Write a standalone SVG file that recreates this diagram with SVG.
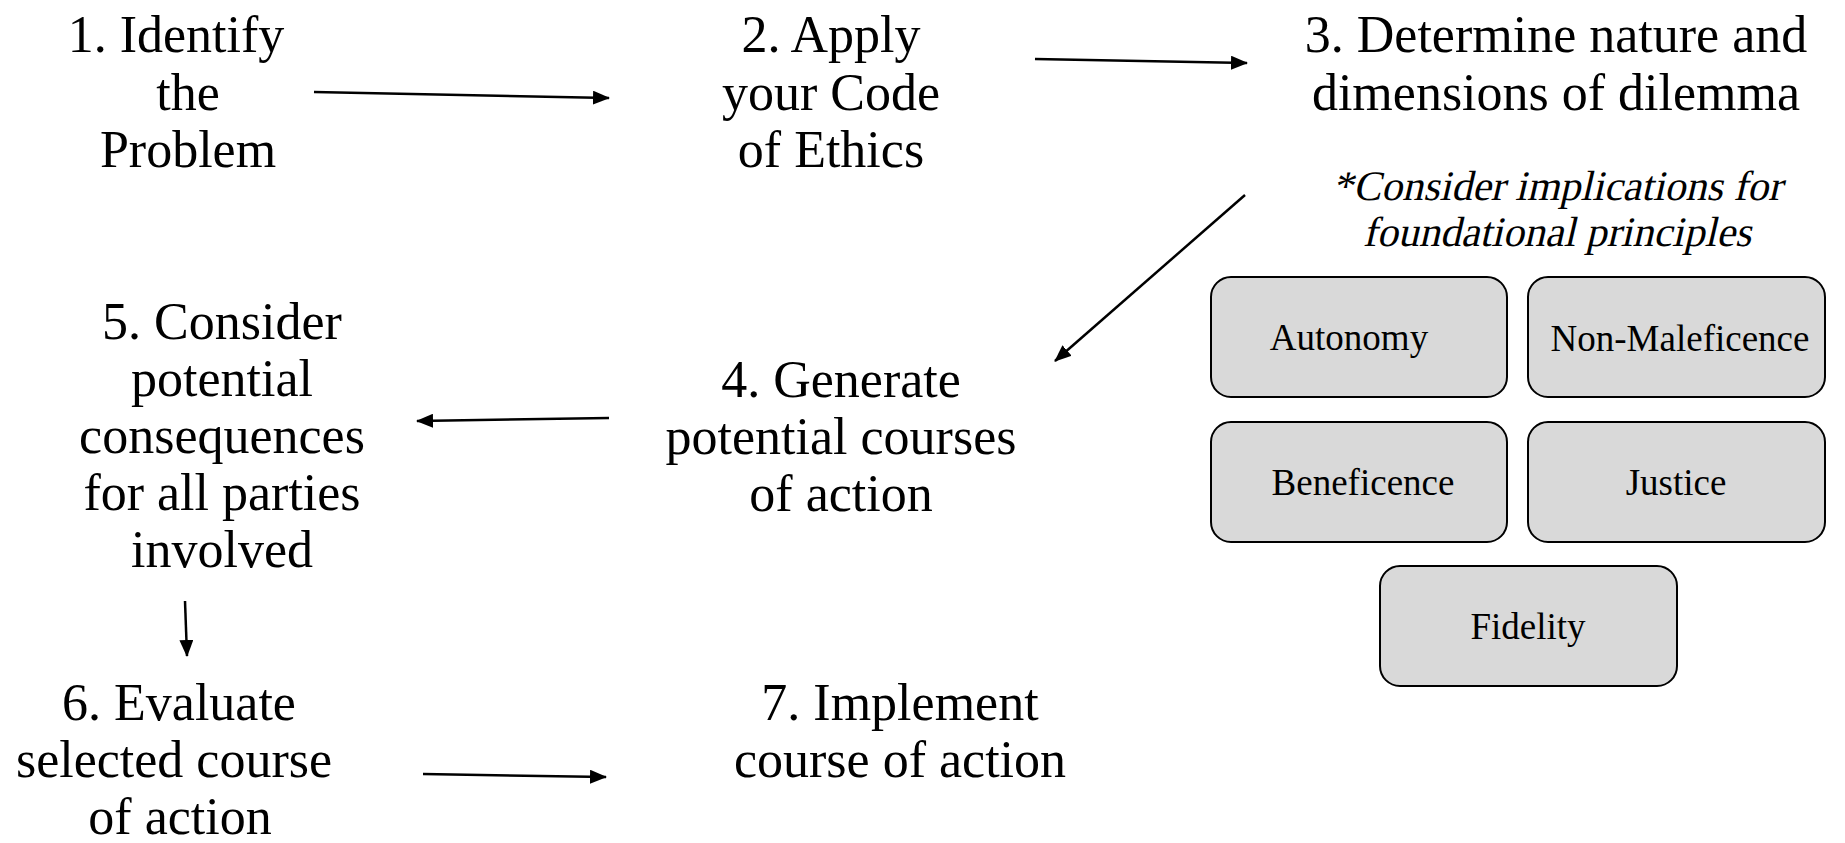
<svg xmlns="http://www.w3.org/2000/svg" width="1845" height="843" viewBox="0 0 1845 843">
<style>
.t{font-family:"Liberation Serif","Times New Roman",serif;font-size:52px;fill:#000;text-anchor:middle}
.n{font-family:"Liberation Serif","Times New Roman",serif;font-size:42px;fill:#000;text-anchor:middle}
.b{font-family:"Liberation Serif","Times New Roman",serif;font-size:37px;fill:#000;text-anchor:middle}
.box{fill:#d9d9d9;stroke:#000;stroke-width:2}
.c{stroke:#000;stroke-width:2.5;fill:none;marker-end:url(#ah)}
</style>
<defs>
<marker id="ah" markerUnits="userSpaceOnUse" markerWidth="17" markerHeight="14" refX="16" refY="7" orient="auto">
<path d="M0,0 L17,7 L0,14 z" fill="#000"/>
</marker>
</defs>
<rect width="1845" height="843" fill="#fff"/>
<g id="connectors">
<line class="c" x1="314" y1="92" x2="609" y2="98"/>
<line class="c" x1="1035" y1="59" x2="1247" y2="63"/>
<line class="c" x1="1245" y1="195" x2="1055" y2="361"/>
<line class="c" x1="609" y1="418" x2="417" y2="421"/>
<line class="c" x1="185" y1="601" x2="187" y2="656"/>
<line class="c" x1="423" y1="774" x2="606" y2="777"/>
</g>
<g id="n1">
<text class="t" x="176" y="52">1. Identify</text>
<text class="t" x="188" y="110">the</text>
<text class="t" x="188" y="167">Problem</text>
</g>
<g id="n2">
<text class="t" x="831" y="52">2. Apply</text>
<text class="t" x="831" y="110">your Code</text>
<text class="t" x="831" y="167">of Ethics</text>
</g>
<g id="n3">
<text class="t" x="1556" y="52">3. Determine nature and</text>
<text class="t" x="1556" y="110">dimensions of dilemma</text>
</g>
<g id="note">
<text class="n" transform="translate(1557,200) skewX(-13)" x="0" y="0">*Consider implications for</text>
<text class="n" transform="translate(1557,246) skewX(-13)" x="0" y="0">foundational principles</text>
</g>
<g id="autonomy">
<rect class="box" x="1211" y="277" width="296" height="120" rx="20"/>
<text class="b" x="1349" y="350">Autonomy</text>
</g>
<g id="nonmaleficence">
<rect class="box" x="1528" y="277" width="297" height="120" rx="20"/>
<text class="b" x="1680" y="351">Non-Maleficence</text>
</g>
<g id="beneficence">
<rect class="box" x="1211" y="422" width="296" height="120" rx="20"/>
<text class="b" x="1363" y="495">Beneficence</text>
</g>
<g id="justice">
<rect class="box" x="1528" y="422" width="297" height="120" rx="20"/>
<text class="b" x="1676" y="495">Justice</text>
</g>
<g id="fidelity">
<rect class="box" x="1380" y="566" width="297" height="120" rx="20"/>
<text class="b" x="1528" y="639">Fidelity</text>
</g>
<g id="n4">
<text class="t" x="841" y="397">4. Generate</text>
<text class="t" x="841" y="454">potential courses</text>
<text class="t" x="841" y="511">of action</text>
</g>
<g id="n5">
<text class="t" x="222" y="339">5. Consider</text>
<text class="t" x="222" y="396">potential</text>
<text class="t" x="222" y="453">consequences</text>
<text class="t" x="222" y="510">for all parties</text>
<text class="t" x="222" y="567">involved</text>
</g>
<g id="n6">
<text class="t" x="179" y="720">6. Evaluate</text>
<text class="t" x="174" y="777">selected course</text>
<text class="t" x="180" y="834">of action</text>
</g>
<g id="n7">
<text class="t" x="900" y="720">7. Implement</text>
<text class="t" x="900" y="777">course of action</text>
</g>
</svg>
